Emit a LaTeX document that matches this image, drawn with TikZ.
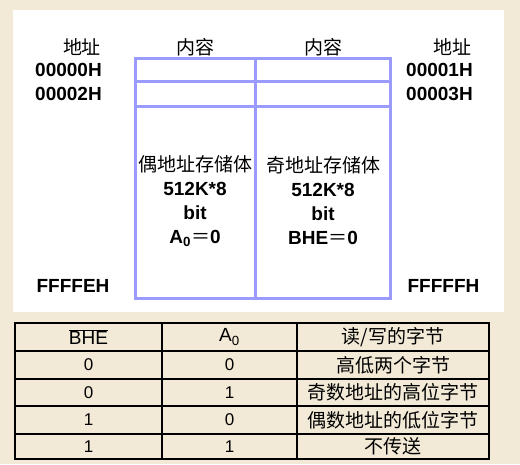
\documentclass[tikz,border=0pt]{standalone}
\usepackage{fontspec}
\setmainfont{Liberation Sans}
\newfontfamily\cjk{Noto Sans CJK SC}
\definecolor{bgc}{HTML}{F2EAD7}
\definecolor{memc}{HTML}{9B9BFF}
\tikzset{
  lat/.style={font=\fontsize{19}{22}\selectfont\bfseries, inner sep=0pt},
  cn/.style={font=\fontsize{19}{22}\selectfont\cjk, inner sep=0pt},
  ctr/.style={font=\fontsize{19}{24}\selectfont\bfseries, align=center, inner sep=0pt},
  tnum/.style={font=\fontsize{17}{20}\selectfont, inner sep=0pt},
  tcn/.style={font=\fontsize{19}{22}\selectfont\cjk, inner sep=0pt},
  memline/.style={draw=memc, line width=3pt},
}
\begin{document}
\begin{tikzpicture}[x=1pt,y=-1pt]
\useasboundingbox (0,0) rectangle (520,464);
\fill[bgc] (0,0) rectangle (520,464);
\fill[white] (13,10) rectangle (504,312);
% headers
\node[cn] (addrL) at (82,47) {地址};
\node[cn] (contL) at (195,47) {内容};
\node[cn] (contR) at (323,47) {内容};
\node[cn] (addrR) at (452,47) {地址};
\node[lat] (a0) at (68.5,70) {00000H};
\node[lat] (a2) at (68.5,94) {00002H};
\node[lat] (ae) at (73,286) {FFFFEH};
\node[lat] (a1) at (439.5,70) {00001H};
\node[lat] (a3) at (439.5,94) {00003H};
\node[lat] (af) at (443.5,286) {FFFFFH};
% memory
\draw[memline] (135,58) rectangle (390,298);
\draw[memline] (255,58) -- (255,298);
\draw[memline] (135,81) -- (390,81);
\draw[memline] (135,106) -- (390,106);
\node[ctr] (evenb) at (195,201) {{\cjk\mdseries 偶地址存储体}\\512K*8\\bit\\A\textsubscript{0}{\cjk\mdseries ＝}0};
\node[ctr] (oddb) at (323,201) {{\cjk\mdseries 奇地址存储体}\\512K*8\\bit\\BHE{\cjk\mdseries ＝}0};
% table
\draw[line width=2pt] (15,323) rectangle (489,459);
\foreach \yy in {351,379,406,434} \draw[line width=1.4pt] (15,\yy) -- (489,\yy);
\draw[line width=1.4pt] (162,323) -- (162,459);
\draw[line width=1.4pt] (297,323) -- (297,459);
\node[tnum, font=\fontsize{19}{22}\selectfont] (h1) at (88.5,337) {$\overline{\hbox{BHE}}$};
\node[tnum, font=\fontsize{19}{22}\selectfont] (h2) at (229.5,337) {A\textsubscript{0}};
\node[tcn] (h3) at (393,337) {读/写的字节};
\node[tnum] (r1a) at (88.5,365) {0};
\node[tnum] (r1b) at (229.5,365) {0};
\node[tcn] (r1c) at (393,365) {高低两个字节};
\node[tnum] (r2a) at (88.5,392.5) {0};
\node[tnum] (r2b) at (229.5,392.5) {1};
\node[tcn] (r2c) at (393,392.5) {奇数地址的高位字节};
\node[tnum] (r3a) at (88.5,420) {1};
\node[tnum] (r3b) at (229.5,420) {0};
\node[tcn] (r3c) at (393,420) {偶数地址的低位字节};
\node[tnum] (r4a) at (88.5,446.5) {1};
\node[tnum] (r4b) at (229.5,446.5) {1};
\node[tcn] (r4c) at (393,446.5) {不传送};
\end{tikzpicture}
\end{document}
